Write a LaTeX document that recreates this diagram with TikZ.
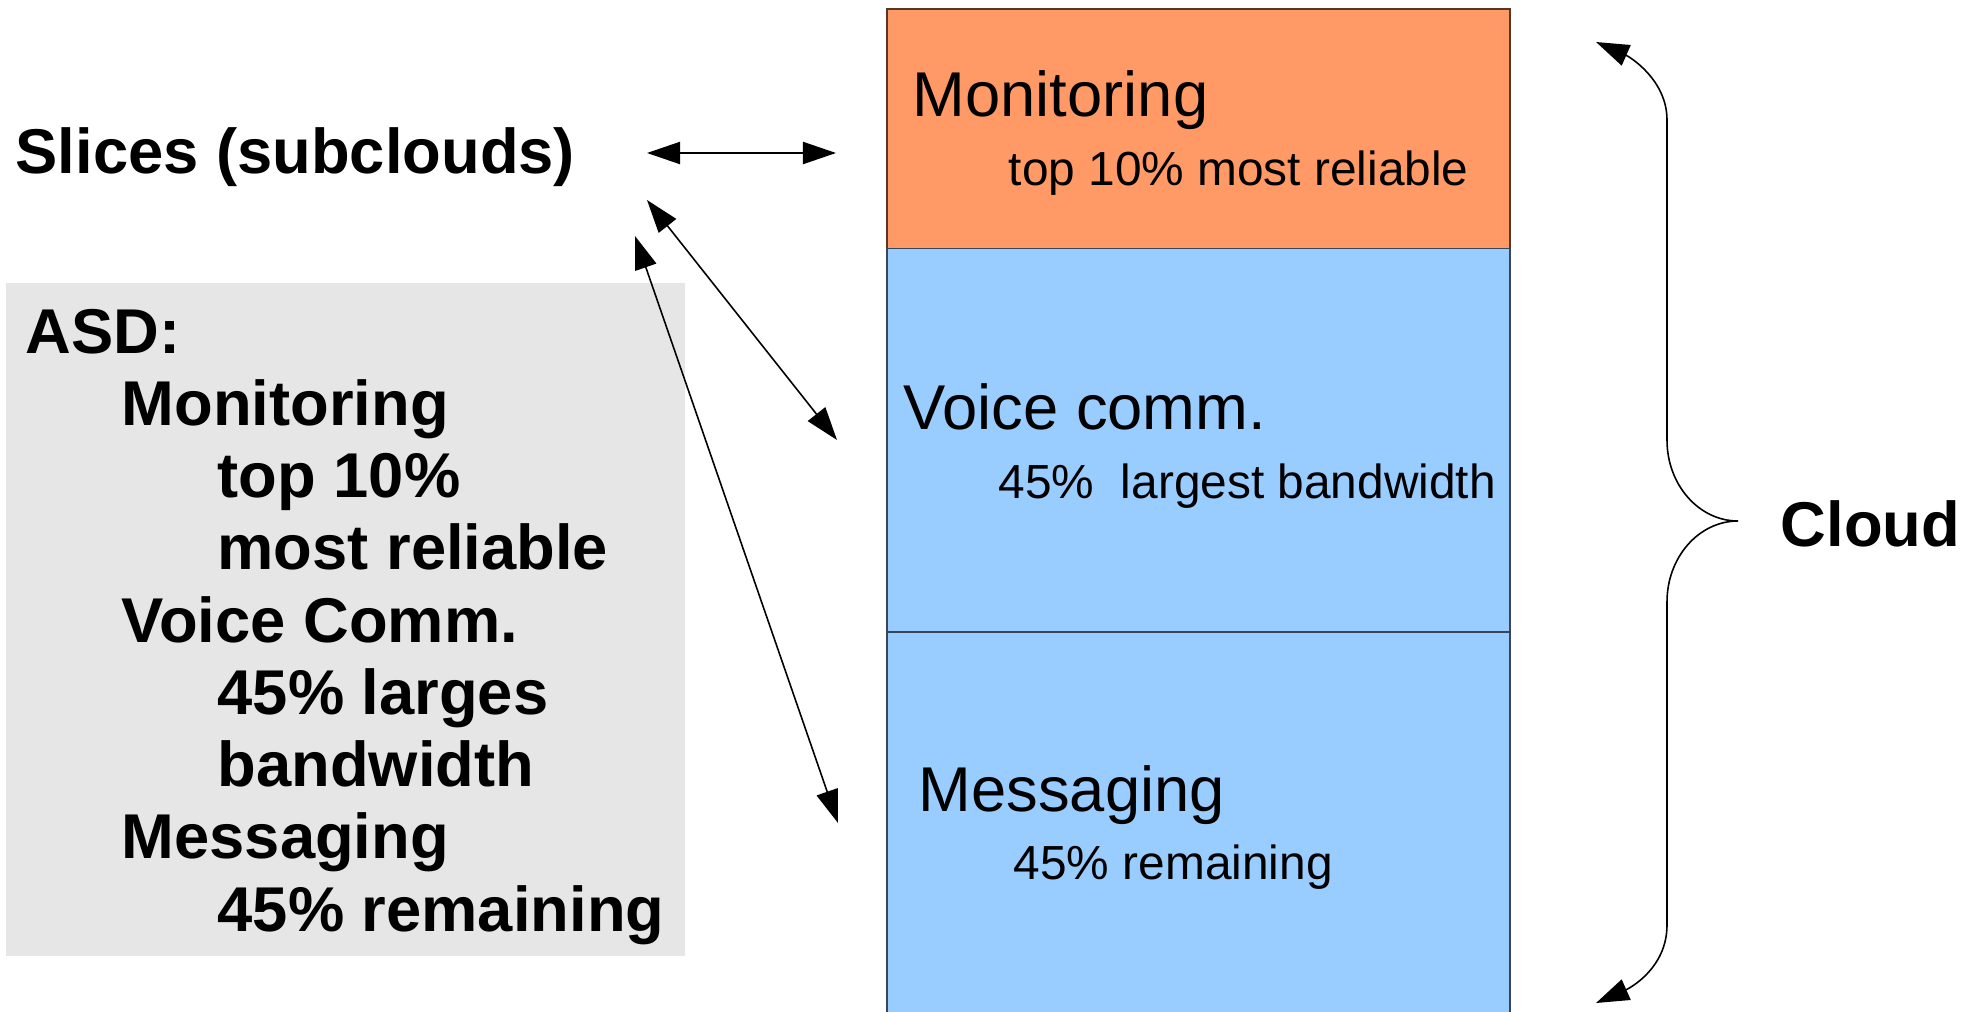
\documentclass[tikz,border=0pt]{standalone}
\usepackage{fontspec}
\setmainfont{Liberation Sans}
\usetikzlibrary{arrows.meta,positioning}
\definecolor{sliceorange}{HTML}{FF9966}
\definecolor{sliceblue}{HTML}{99CCFF}
\definecolor{asdgrey}{HTML}{E6E6E6}
\tikzset{
        % Cloud slices
        slice/.style={rectangle, inner sep=0pt, minimum width=6.23cm, line width=0.5pt},
        slice_top/.style={slice, fill=sliceorange, draw=sliceorange!35!black},
        slice_low/.style={slice, fill=sliceblue, draw=sliceblue!35!black},
        % Texts in the slices
        title_big/.style={inner sep=0pt, anchor=base west, font=\fontsize{18}{20}\selectfont},
        title_small/.style={inner sep=0pt, anchor=base west, font=\fontsize{13.6}{16}\selectfont},
        % Bold labels
        label_bold/.style={inner sep=0pt, anchor=base west, font=\fontsize{18}{20}\selectfont\bfseries},
        % Links
        link/.style={<->, line width=0.45pt}
}
\begin{document}
\begin{tikzpicture}[x=0.01cm, y=-0.01cm, >={Triangle[length=9.4pt,width=6.3pt]}]
    \useasboundingbox (0,0) rectangle (1978,1012);
    \clip (0,0) rectangle (1978,1012);
    % Slices of the cloud
    \node[slice_top, minimum height=2.395cm] (mon) at (1198.5,128.75) {};
    \node[slice_low, minimum height=3.835cm] (voice) at (1198.5,440.25) {};
    \node[slice_low, minimum height=3.9cm] (msg) at (1198.5,827) {};
    \node[title_big] (mon_t) at (912,116) {Monitoring};
    \node[title_small] (mon_s) at (1008,185.5) {top 10\% most reliable};
    \node[title_big] (voice_t) at (903,429) {Voice comm.};
    \node[title_small] (voice_s) at (998,498) {45\%\ \ largest bandwidth};
    \node[title_big] (msg_t) at (918,811) {Messaging};
    \node[title_small] (msg_s) at (1013,879) {45\% remaining};
    % ASD panel
    \node[rectangle, inner sep=0pt, fill=asdgrey, minimum width=6.79cm, minimum height=6.73cm] (asd) at (345.5,619.5) {};
    \foreach \ind/\row/\txt in {0/0/ASD:, 1/1/Monitoring, 2/2/top 10\%, 2/3/most reliable, 1/4/Voice Comm., 2/5/45\% larges, 2/6/bandwidth, 1/7/Messaging, 2/8/45\% remaining}
        \node[label_bold] (asd_\row) at ({25+\ind*96},{353+\row*72.25}) {\txt};
    \node[label_bold] (slices) at (15,173) {Slices (subclouds)};
    \node[label_bold] (cloud) at (1780,546) {Cloud};
    % Links from the slices label
    \coordinate (sl_a) at (647,153);
    \coordinate (mon_in) at (836,153);
    \coordinate (sl_b) at (647,200);
    \coordinate (voice_in) at (837,440);
    \coordinate (sl_c) at (635,236);
    \coordinate (msg_in) at (838,823);
    \draw[link] (sl_a) -- (mon_in);
    \draw[link] (sl_b) -- (voice_in);
    \draw[link] (sl_c) -- (msg_in);
    % Brace of the cloud
    \coordinate (brace_top) at (1596,42);
    \coordinate (brace_tip) at (1738,521);
    \coordinate (brace_bot) at (1596,1003);
    \draw[link] (brace_top) .. controls (1630,57) and (1667,80) .. (1667,120) -- (1667,440)
        .. controls (1667,485) and (1699,521) .. (brace_tip)
        .. controls (1699,521) and (1667,557) .. (1667,602) -- (1667,925)
        .. controls (1667,968) and (1630,988) .. (brace_bot);
\end{tikzpicture}
\end{document}
